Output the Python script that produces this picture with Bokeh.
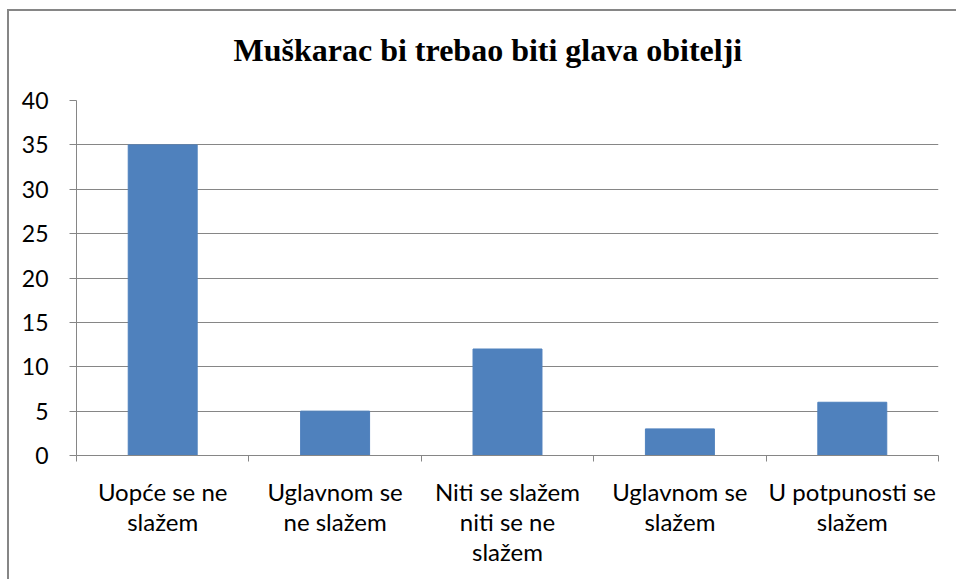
from bokeh.plotting import figure
from bokeh.models import FixedTicker, ColumnDataSource, Title
from bokeh.embed import file_html
from bokeh.resources import INLINE

categories = ["Uopće se ne\nslažem", "Uglavnom se\nne slažem", "Niti se slažem\nniti se ne\nslažem",
              "Uglavnom se\nslažem", "U potpunosti se\nslažem"]
values = [35, 5, 12, 3, 6]
y_ticks = [0, 5, 10, 15, 20, 25, 30, 35, 40]
title_text = "Muškarac bi trebao biti glava obitelji"

centers = [i + 0.5 for i in range(len(categories))]
src = ColumnDataSource(dict(x=centers, top=values))

p = figure(width=949, height=570, output_backend="svg", toolbar_location=None,
           x_range=(0, len(categories)), y_range=(0, 40),
           min_border_left=67, min_border_right=20, min_border_top=89, min_border_bottom=126)
p.styles = {"margin-left": "7px", "margin-top": "9px",
            "border-left": "2px solid #868686", "border-top": "2px solid #868686"}
p.outline_line_color = None
p.background_fill_color = "white"
p.border_fill_color = "white"

p.title.text = title_text
p.title.align = "left"
p.title.offset = 157
p.title.text_font = "Liberation Serif"
p.title.text_font_style = "bold"
p.title.text_font_size = "32px"
p.title.text_color = "black"

spacer = Title(text=" ", text_font_size="23px", standoff=0)
p.add_layout(spacer, "above")

p.vbar(x="x", top="top", width=0.4, source=src, color="#4F81BD")

# x axis
p.xaxis.ticker = FixedTicker(ticks=centers, minor_ticks=list(range(len(categories) + 1)))
p.xaxis.major_label_overrides = {c: lab for c, lab in zip(centers, categories)}
p.xaxis.major_tick_out = 0
p.xaxis.major_tick_in = 0
p.xaxis.minor_tick_out = 6
p.xaxis.minor_tick_in = 0
p.xaxis.minor_tick_line_color = "#868686"
p.xaxis.axis_line_color = "#868686"
p.xaxis.major_label_text_font = "Lato"
p.xaxis.major_label_text_font_size = "24px"
p.xaxis.major_label_text_line_height = 1.05
p.xaxis.major_label_text_color = "black"
p.xaxis.major_label_standoff = 15

# y axis
p.yaxis.ticker = FixedTicker(ticks=y_ticks, minor_ticks=[])
p.yaxis.major_tick_out = 7
p.yaxis.major_tick_in = 0
p.yaxis.major_tick_line_color = "#868686"
p.yaxis.axis_line_color = "#868686"
p.yaxis.major_label_text_font = "Lato"
p.yaxis.major_label_text_font_size = "23px"
p.yaxis.major_label_text_color = "black"
p.yaxis.major_label_standoff = 21

p.xgrid.grid_line_color = None
p.ygrid.ticker = FixedTicker(ticks=y_ticks)
p.ygrid.grid_line_color = "#868686"

open("out.html", "w").write(file_html(p, INLINE))
